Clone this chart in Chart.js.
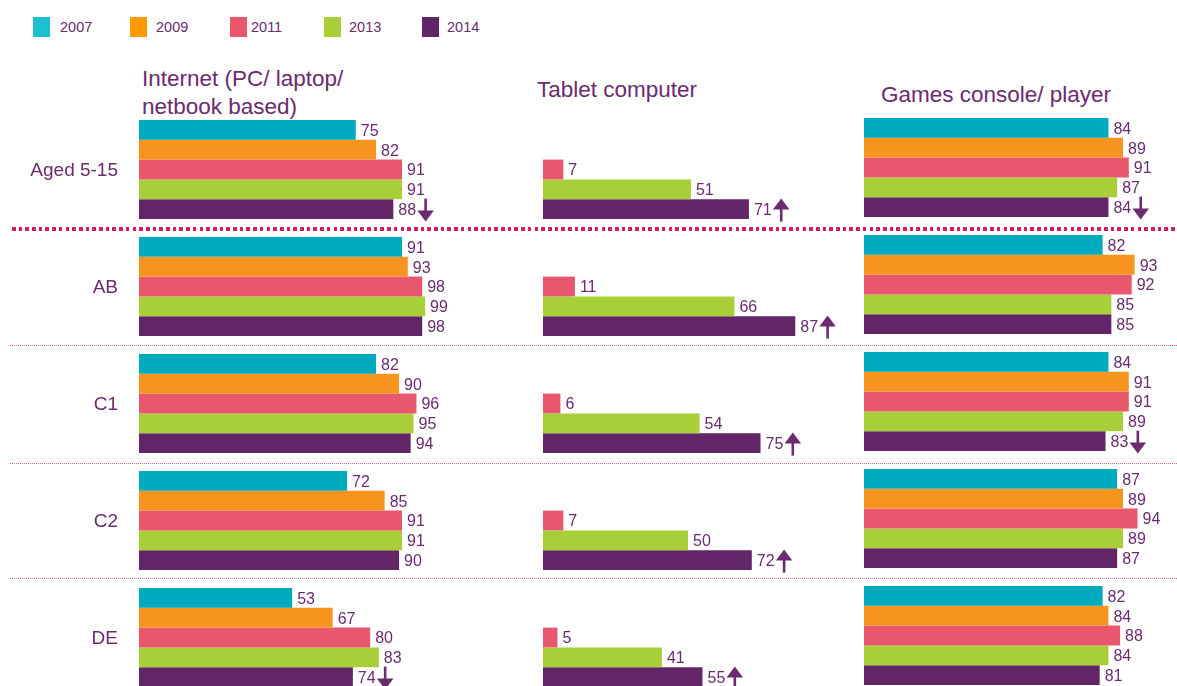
<!DOCTYPE html>
<html><head><meta charset="utf-8">
<script src="https://cdn.jsdelivr.net/npm/chart.js@4.4.0/dist/chart.umd.min.js"></script>
<style>
html,body{margin:0;padding:0;width:1177px;height:686px;overflow:hidden;background:#fff;font-family:'Liberation Sans',Arial,sans-serif;color:#6a2b6f}
.sw{position:absolute;top:17px;width:17px;height:20px}
.lt{position:absolute;top:17px;height:20px;line-height:20px;font-size:14.5px}
.title{position:absolute;font-size:22.5px;line-height:28px;white-space:nowrap}
.sepThick{position:absolute;left:12px;width:1165px;height:3.5px;top:227px;background:repeating-linear-gradient(to right,#d51c5c 0 3.6px,transparent 3.6px 6.7px)}
.sepThin{position:absolute;left:10px;width:1167px;height:1px;background:repeating-linear-gradient(to right,#e4638f 0 1px,transparent 1px 2px)}
canvas{position:absolute}
</style></head><body>
<div id="legend"></div>
<div class="title" style="left:142px;top:65px">Internet (PC/ laptop/<br>netbook based)</div>
<div class="title" style="left:537px;top:76px">Tablet computer</div>
<div class="title" style="left:881px;top:81px">Games console/ player</div>
<div class="sepThick"></div>
<div class="sepThin" style="top:345px"></div>
<div class="sepThin" style="top:463px"></div>
<div class="sepThin" style="top:578px"></div>
<canvas id="c1" width="540" height="585" style="left:0;top:111px"></canvas>
<canvas id="c2" width="330" height="585" style="left:543px;top:111px"></canvas>
<canvas id="c3" width="313" height="585" style="left:864px;top:109px"></canvas>
<script>
// ---- data ----
const years = ['2007', '2009', '2011', '2013', '2014'];
const groups = ['Aged 5-15', 'AB', 'C1', 'C2', 'DE'];

const internet2007 = [75, 91, 82, 72, 53];
const internet2009 = [82, 93, 90, 85, 67];
const internet2011 = [91, 98, 96, 91, 80];
const internet2013 = [91, 99, 95, 91, 83];
const internet2014 = [88, 98, 94, 90, 74];
const internetTrend2014 = ['down', null, null, null, 'down'];

const tablet2007 = [null, null, null, null, null];
const tablet2009 = [null, null, null, null, null];
const tablet2011 = [7, 11, 6, 7, 5];
const tablet2013 = [51, 66, 54, 50, 41];
const tablet2014 = [71, 87, 75, 72, 55];
const tabletTrend2014 = ['up', 'up', 'up', 'up', 'up'];

const games2007 = [84, 82, 84, 87, 82];
const games2009 = [89, 93, 91, 89, 84];
const games2011 = [91, 92, 91, 94, 88];
const games2013 = [87, 85, 89, 89, 84];
const games2014 = [84, 85, 83, 87, 81];
const gamesTrend2014 = ['down', null, 'down', null, null];

// ---- styles ----
const TEXT = '#6a2b6f';
const barColors = ['#00aabe', '#f7941e', '#e8576b', '#a8cf38', '#622567'];
const legendColors = ['#1bbfcf', '#ff9900', '#e8576a', '#a8cf38', '#612466'];
const FONT = "'Liberation Sans', Arial, sans-serif";

Chart.defaults.font.family = FONT;
Chart.defaults.color = TEXT;

// legend
const legendX = [33, 130, 230, 324, 422];
const legendTextX = [60, 156, 251, 349, 447];
const lg = document.getElementById('legend');
years.forEach((y, i) => {
  const s = document.createElement('div');
  s.className = 'sw'; s.style.left = legendX[i] + 'px'; s.style.background = legendColors[i];
  lg.appendChild(s);
  const t = document.createElement('div');
  t.className = 'lt'; t.style.left = legendTextX[i] + 'px'; t.textContent = y;
  lg.appendChild(t);
});

function drawArrow(ctx, cx, cy, dir) {
  const half = 11.5, headH = 11, headW = 16.5, shaft = 2.6;
  ctx.beginPath();
  if (dir === 'up') {
    const tip = cy - half, base = tip + headH;
    ctx.moveTo(cx, tip); ctx.lineTo(cx + headW / 2, base); ctx.lineTo(cx - headW / 2, base); ctx.closePath();
    ctx.fill();
    ctx.fillRect(cx - shaft / 2, base - 1, shaft, cy + half - base + 1);
  } else {
    const tip = cy + half, base = tip - headH;
    ctx.moveTo(cx, tip); ctx.lineTo(cx + headW / 2, base); ctx.lineTo(cx - headW / 2, base); ctx.closePath();
    ctx.fill();
    ctx.fillRect(cx - shaft / 2, cy - half, shaft, base - (cy - half) + 1);
  }
}

const valueLabels = {
  id: 'valueLabels',
  afterDatasetsDraw(chart, args, opts) {
    const ctx = chart.ctx;
    ctx.save();
    ctx.fillStyle = TEXT;
    ctx.textBaseline = 'middle';
    // group labels drawn from the category scale
    if (opts.groupLabels) {
      const ys = chart.scales.y;
      ctx.font = '19px ' + FONT;
      ctx.textAlign = 'right';
      groups.forEach((g, i) => ctx.fillText(g, chart.chartArea.left - 21, ys.getPixelForTick(i) + 1));
    }
    ctx.font = '16px ' + FONT;
    ctx.textAlign = 'left';
    chart.data.datasets.forEach((ds, di) => {
      const meta = chart.getDatasetMeta(di);
      meta.data.forEach((el, i) => {
        const v = ds.data[i];
        if (v == null) return;
        const x = el.x + 5, y = el.y + 1.5;
        const t = String(v);
        ctx.fillText(t, x, y);
        const tr = ds.trend && ds.trend[i];
        if (tr) drawArrow(ctx, x + ctx.measureText(t).width + 9.5, el.y + 1, tr);
      });
    });
    ctx.restore();
  }
};

function makeChart(id, series, trend, showGroups, padLeft, padRight) {
  const datasets = series.map((d, i) => ({
    label: years[i],
    data: d,
    backgroundColor: barColors[i],
    borderWidth: 0,
    categoryPercentage: 0.846,
    barPercentage: 1.0,
    trend: i === 4 ? trend : null
  }));
  return new Chart(document.getElementById(id), {
    type: 'bar',
    data: { labels: groups, datasets },
    options: {
      indexAxis: 'y',
      responsive: false,
      animation: false,
      devicePixelRatio: 1,
      layout: { padding: { left: padLeft, right: padRight, top: 0, bottom: 0 } },
      plugins: {
        legend: { display: false },
        tooltip: { enabled: false },
        valueLabels: { groupLabels: showGroups }
      },
      scales: {
        x: { display: false, min: 0, max: 100 },
        y: { display: false }
      }
    },
    plugins: [valueLabels]
  });
}

makeChart('c1', [internet2007, internet2009, internet2011, internet2013, internet2014], internetTrend2014, true, 139, 112);
makeChart('c2', [tablet2007, tablet2009, tablet2011, tablet2013, tablet2014], tabletTrend2014, false, 0, 40);
makeChart('c3', [games2007, games2009, games2011, games2013, games2014], gamesTrend2014, false, 0, 22);
</script>
</body></html>
